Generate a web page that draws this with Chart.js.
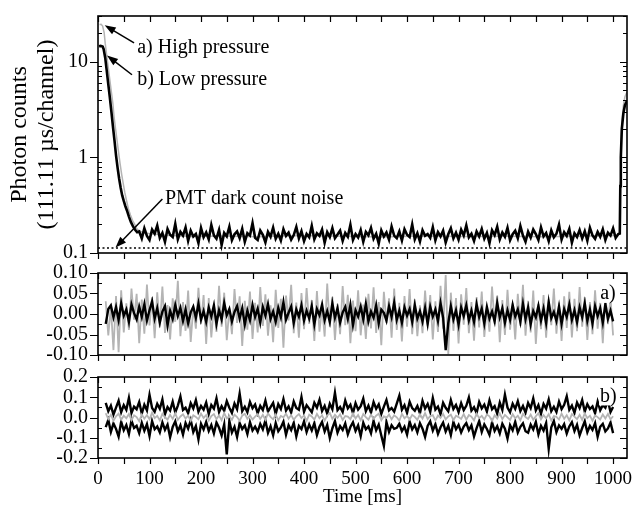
<!DOCTYPE html>
<html><head><meta charset="utf-8">
<script src="https://cdn.jsdelivr.net/npm/chart.js@4.4.1/dist/chart.umd.min.js"></script>
<style>
html,body{margin:0;padding:0;background:#fff;}
#wrap{position:relative;width:637px;height:506px;overflow:hidden;background:#fff;}
canvas{position:absolute;left:0;}
</style></head><body>
<div id="wrap">
<canvas id="c1" width="637" height="266" style="top:0px"></canvas>
<canvas id="c2" width="637" height="110" style="top:258px"></canvas>
<canvas id="c3" width="637" height="144" style="top:362px"></canvas>
</div>
<script>
// ---------------- DATA ----------------
const X_MAX = 1027;
const xTickLabels = [0,100,200,300,400,500,600,700,800,900,1000];
const xTickVals = [0,50,100,150,200,250,300,350,400,450,500,550,600,650,700,750,800,850,900,950,1000];

const gridTimes = [
15,20,25,30,35,40,45,50,55,60,65,70,75,80,85,90,95,100,105,110,
115,120,125,130,135,140,145,150,155,160,165,170,175,180,185,190,195,200,205,210,
215,220,225,230,235,240,245,250,255,260,265,270,275,280,285,290,295,300,305,310,
315,320,325,330,335,340,345,350,355,360,365,370,375,380,385,390,395,400,405,410,
415,420,425,430,435,440,445,450,455,460,465,470,475,480,485,490,495,500,505,510,
515,520,525,530,535,540,545,550,555,560,565,570,575,580,585,590,595,600,605,610,
615,620,625,630,635,640,645,650,655,660,665,670,675,680,685,690,695,700,705,710,
715,720,725,730,735,740,745,750,755,760,765,770,775,780,785,790,795,800,805,810,
815,820,825,830,835,840,845,850,855,860,865,870,875,880,885,890,895,900,905,910,
915,920,925,930,935,940,945,950,955,960,965,970,975,980,985,990,995,1000,1005,1010];

// Top panel: low pressure (black)
const lowDecayT = [2,5,9,11,14,17,20,23,26,29,32,35,38,41,44,47,50,53,56,60,64,68,72,76];
const lowDecayV = [14.5,14.6,14.4,13.5,11,8,5.8,4.2,3.0,2.1,1.5,1.05,0.78,0.6,0.48,0.40,0.35,0.31,0.28,0.24,0.21,0.19,0.175,0.165];
// baseline, t = 80 ... 1010 (gridTimes from index 13)
const lowBase = [
0.168,0.142,0.181,0.151,0.137,0.176,0.159,0.193,0.144,0.162,0.131,0.178,0.155,0.147,0.201,0.139,0.166,0.152,0.185,0.134,
0.171,0.149,0.158,0.127,0.183,0.146,0.164,0.139,0.196,0.153,0.141,0.174,0.121,0.162,0.149,0.188,0.136,0.157,0.168,0.143,
0.179,0.131,0.161,0.152,0.205,0.144,0.137,0.172,0.155,0.129,0.166,0.148,0.184,0.141,0.159,0.135,0.177,0.151,0.163,0.138,
0.154,0.187,0.142,0.169,0.133,0.158,0.146,0.192,0.139,0.161,0.151,0.176,0.128,0.165,0.147,0.182,0.143,0.156,0.171,0.134,
0.162,0.148,0.197,0.137,0.158,0.145,0.174,0.131,0.166,0.153,0.183,0.141,0.159,0.126,0.172,0.149,0.164,0.138,0.189,0.152,
0.143,0.168,0.135,0.177,0.155,0.147,0.199,0.139,0.161,0.132,0.173,0.151,0.158,0.144,0.186,0.136,0.165,0.149,0.171,0.129,
0.157,0.181,0.142,0.163,0.138,0.175,0.152,0.194,0.146,0.159,0.134,0.168,0.149,0.178,0.141,0.162,0.127,0.173,0.154,0.188,
0.139,0.164,0.148,0.183,0.136,0.157,0.171,0.143,0.191,0.152,0.131,0.167,0.145,0.176,0.158,0.137,0.185,0.149,0.162,0.133,
0.172,0.146,0.159,0.198,0.138,0.165,0.151,0.179,0.128,0.161,0.147,0.174,0.142,0.169,0.135,0.184,0.153,0.141,0.166,0.148,
0.177,0.137,0.163,0.152,0.181,0.144,0.158];
const lowRiseT = [1013,1014,1015,1017,1020,1023,1027];
const lowRiseV = [0.16,0.5,1.0,2.0,2.9,3.5,3.9];

// Top panel: high pressure (grey)
const highDecayT = [3,6,9,12,14,17,20,23,26,29,31,34,37,40,43,46,49,52,55,59,63,67,71,75,80];
const highDecayV = [24.5,24.6,23.5,20,15.5,11.5,8.6,6.4,4.8,3.6,2.7,2.0,1.5,1.12,0.85,0.66,0.53,0.43,0.36,0.29,0.25,0.22,0.2,0.18,0.17];
const highBaseT = [90,130,180,240,310,390,470,550,630,710,790,870,950,1010];
const highBaseV = [0.162,0.153,0.149,0.151,0.148,0.152,0.15,0.147,0.151,0.149,0.15,0.148,0.151,0.152];
const highRiseT = [1013,1014,1015,1017,1020,1023,1027];
const highRiseV = [0.16,0.55,1.1,2.3,3.5,4.3,4.8];

const darkCount = 0.113;

// Middle panel a): residuals (grey, black), t = 15 ... 1000
const resAgrey = [
0.031,-0.052,0.018,-0.088,0.044,-0.093,0.058,-0.045,0.026,-0.039,0.062,-0.014,0.049,-0.071,0.035,-0.048,0.072,-0.028,0.041,-0.059,
0.053,-0.033,0.067,-0.046,0.022,-0.062,0.038,-0.019,0.081,-0.054,0.029,-0.041,0.057,-0.068,0.017,-0.036,0.064,-0.025,0.046,-0.073,
0.039,-0.057,0.024,-0.044,0.069,-0.031,0.052,-0.064,0.013,-0.049,0.061,-0.022,0.043,-0.078,0.032,-0.038,0.055,-0.061,0.027,-0.045,
0.066,-0.029,0.048,-0.053,0.021,-0.069,0.059,-0.034,0.037,-0.082,0.045,-0.016,0.071,-0.047,0.028,-0.058,0.051,-0.037,0.063,-0.024,
0.034,-0.066,0.056,-0.043,0.019,-0.055,0.074,-0.031,0.042,-0.063,0.025,-0.049,0.068,-0.027,0.047,-0.071,0.033,-0.042,0.058,-0.052,
0.023,-0.061,0.049,-0.035,0.065,-0.046,0.029,-0.076,0.054,-0.022,0.038,-0.058,0.062,-0.039,0.027,-0.067,0.044,-0.031,0.061,-0.049,
0.036,-0.054,0.021,-0.047,0.057,-0.028,0.046,-0.062,0.031,-0.044,0.069,-0.036,0.095,-0.098,0.052,-0.041,0.039,-0.072,0.048,-0.026,
0.063,-0.047,0.029,-0.065,0.041,-0.033,0.055,-0.056,0.018,-0.043,0.067,-0.024,0.045,-0.069,0.034,-0.051,0.059,-0.038,0.026,-0.062,
0.049,-0.029,0.071,-0.053,0.032,-0.045,0.057,-0.073,0.024,-0.037,0.046,-0.058,0.035,-0.027,0.062,-0.048,0.028,-0.066,0.043,-0.034,
0.054,-0.057,0.037,-0.042,0.066,-0.031,0.041,-0.063,0.029,-0.049,0.058,-0.036,0.033,-0.071,0.047,-0.025,0.039,-0.052];
const resAblack = [
-0.024,0.012,0.021,-0.008,0.017,-0.015,0.026,-0.004,0.011,-0.019,0.023,0.002,-0.013,0.018,-0.007,0.024,-0.016,0.009,0.031,-0.011,
0.014,-0.021,0.006,0.019,-0.028,0.008,-0.012,0.022,-0.005,0.015,-0.017,0.011,-0.023,0.004,0.018,-0.009,0.025,-0.014,0.007,-0.019,
0.016,-0.006,0.021,-0.024,0.009,-0.013,0.027,-0.003,0.012,-0.018,0.005,0.019,-0.011,0.014,-0.026,0.008,-0.015,0.022,-0.007,0.013,
-0.021,0.017,-0.004,0.024,-0.012,0.006,-0.019,0.015,-0.008,0.029,-0.014,0.003,0.018,-0.022,0.011,-0.006,0.021,-0.016,0.008,-0.011,
0.019,-0.025,0.012,-0.003,0.023,-0.015,0.007,-0.019,0.026,-0.009,0.014,-0.021,0.004,0.017,-0.012,0.022,-0.027,0.009,-0.006,0.018,
-0.013,0.025,-0.018,0.006,-0.009,0.021,-0.023,0.011,0.003,-0.016,0.019,-0.007,0.028,-0.014,0.008,-0.021,0.016,-0.004,0.012,-0.019,
0.022,-0.011,0.007,-0.018,0.015,-0.024,0.018,-0.006,0.011,-0.017,0.026,-0.009,-0.088,-0.022,0.019,-0.013,0.009,-0.026,0.016,-0.005,
0.021,-0.015,0.008,-0.019,0.024,-0.007,0.013,-0.023,0.017,-0.011,0.006,-0.018,0.027,-0.008,0.014,-0.021,0.009,-0.014,0.022,-0.006,
0.011,-0.019,0.025,-0.012,0.016,-0.025,0.007,-0.008,0.02,-0.016,0.013,-0.022,0.029,-0.01,0.005,-0.017,0.018,-0.024,0.012,-0.007,
0.023,-0.014,0.009,-0.02,0.016,-0.008,0.026,-0.017,0.011,-0.023,0.019,-0.005,0.014,-0.021,0.024,-0.012,0.008,-0.018];

// Bottom panel b): residuals (two black bands, grey), t = 15 ... 1000
const resBhigh = [
0.072,0.031,0.058,0.014,0.049,0.083,0.026,0.061,0.038,0.097,0.022,0.054,0.041,0.076,0.019,0.063,0.035,0.112,0.047,0.028,
0.067,0.043,0.089,0.016,0.052,0.034,0.078,0.025,0.059,0.104,0.037,0.048,0.021,0.071,0.045,0.086,0.029,0.057,0.039,0.074,
0.018,0.062,0.044,0.095,0.027,0.056,0.033,0.081,0.048,0.023,0.069,0.041,0.118,0.031,0.053,0.026,0.077,0.046,0.064,0.021,
0.058,0.037,0.083,0.029,0.051,0.072,0.017,0.066,0.042,0.091,0.034,0.055,0.024,0.079,0.047,0.038,0.101,0.028,0.061,0.044,
0.026,0.073,0.049,0.088,0.032,0.057,0.019,0.068,0.041,0.122,0.036,0.052,0.027,0.084,0.045,0.063,0.022,0.071,0.039,0.056,
0.093,0.031,0.059,0.024,0.076,0.043,0.065,0.018,0.054,0.087,0.035,0.047,0.029,0.069,0.108,0.038,0.061,0.023,0.078,0.046,
0.033,0.057,0.021,0.082,0.044,0.067,0.028,0.096,0.039,0.054,0.016,0.073,0.048,0.031,0.086,0.042,0.062,0.027,0.071,0.036,
0.058,0.099,0.034,0.051,0.022,0.077,0.045,0.064,0.029,0.085,0.041,0.056,0.019,0.074,0.037,0.113,0.049,0.026,0.068,0.043,
0.081,0.032,0.057,0.024,0.072,0.046,0.094,0.035,0.061,0.018,0.067,0.044,0.089,0.031,0.053,0.027,0.078,0.041,0.063,0.105,
0.038,0.059,0.023,0.074,0.047,0.086,0.029,0.066,0.042,0.055,0.021,0.079,0.036,0.061,0.048,0.083,0.027,0.052];
const resBlow = [
-0.048,-0.012,-0.071,-0.029,-0.056,-0.094,-0.021,-0.063,-0.037,-0.082,-0.015,-0.052,-0.041,-0.077,-0.026,-0.065,-0.033,-0.091,-0.018,-0.058,
-0.044,-0.073,-0.024,-0.061,-0.035,-0.098,-0.047,-0.019,-0.068,-0.039,-0.084,-0.027,-0.055,-0.013,-0.072,-0.042,-0.108,-0.031,-0.059,-0.022,
-0.066,-0.037,-0.079,-0.025,-0.051,-0.088,-0.034,-0.182,-0.017,-0.074,-0.046,-0.096,-0.028,-0.057,-0.039,-0.081,-0.023,-0.064,-0.045,-0.071,
-0.032,-0.059,-0.015,-0.076,-0.043,-0.088,-0.027,-0.068,-0.049,-0.021,-0.085,-0.038,-0.062,-0.026,-0.093,-0.041,-0.057,-0.019,-0.072,-0.035,
-0.064,-0.028,-0.087,-0.046,-0.022,-0.069,-0.037,-0.101,-0.053,-0.018,-0.075,-0.042,-0.061,-0.029,-0.083,-0.047,-0.024,-0.066,-0.039,-0.092,
-0.026,-0.058,-0.044,-0.078,-0.017,-0.063,-0.035,-0.089,-0.14,-0.023,-0.071,-0.038,-0.056,-0.051,-0.031,-0.067,-0.045,-0.084,-0.021,-0.059,
-0.037,-0.073,-0.028,-0.055,-0.096,-0.042,-0.019,-0.064,-0.033,-0.081,-0.048,-0.025,-0.069,-0.041,-0.087,-0.022,-0.058,-0.036,-0.074,-0.045,
-0.027,-0.062,-0.039,-0.093,-0.052,-0.018,-0.071,-0.034,-0.057,-0.086,-0.024,-0.066,-0.043,-0.079,-0.031,-0.055,-0.104,-0.038,-0.063,-0.021,
-0.074,-0.046,-0.029,-0.068,-0.075,-0.035,-0.059,-0.022,-0.083,-0.041,-0.064,-0.027,-0.155,-0.048,-0.017,-0.072,-0.039,-0.056,-0.033,-0.079,
-0.044,-0.023,-0.067,-0.036,-0.088,-0.052,-0.019,-0.073,-0.041,-0.061,-0.028,-0.095,-0.046,-0.031,-0.069,-0.054,-0.025,-0.077];
const resBgrey = [
0.021,-0.008,0.014,-0.016,0.006,0.019,-0.011,0.009,-0.004,0.017,-0.013,0.011,0.002,-0.018,0.015,-0.006,0.012,-0.009,0.024,-0.003,
0.008,-0.014,0.018,0.001,-0.01,0.013,-0.007,0.021,-0.012,0.005,0.016,-0.005,0.009,-0.017,0.011,0.003,-0.009,0.019,-0.002,0.012,
-0.015,0.007,0.017,-0.008,0.01,-0.013,0.022,-0.004,0.006,-0.011,0.014,0.002,-0.016,0.009,0.018,-0.006,0.011,-0.01,0.004,0.016,
-0.007,0.013,-0.012,0.02,0.003,-0.009,0.015,-0.014,0.008,0.001,0.019,-0.006,0.012,-0.011,0.006,0.017,-0.003,0.01,-0.016,0.014,
0.005,-0.01,0.018,-0.004,0.011,-0.015,0.009,0.023,-0.007,0.013,-0.002,0.016,-0.012,0.007,0.004,-0.008,0.02,-0.005,0.012,-0.013,
0.017,0.002,-0.011,0.014,-0.006,0.009,0.019,-0.014,0.006,-0.003,0.015,-0.009,0.011,0.001,-0.016,0.018,-0.004,0.008,-0.01,0.013,
0.003,-0.012,0.016,-0.005,0.021,-0.008,0.007,0.012,-0.015,0.01,-0.002,0.018,-0.009,0.005,0.014,-0.013,0.009,0.002,-0.007,0.017,
-0.011,0.012,0.004,-0.014,0.019,-0.003,0.008,-0.01,0.015,0.006,-0.017,0.011,-0.005,0.02,-0.008,0.013,0.001,-0.012,0.016,-0.004,
0.009,-0.013,0.018,0.002,-0.007,0.014,-0.011,0.006,0.021,-0.009,0.012,-0.004,0.016,-0.015,0.007,0.003,-0.01,0.019,-0.006,0.011,
-0.014,0.017,0.004,-0.008,0.013,-0.012,0.02,-0.003,0.009,-0.016,0.011,0.002,-0.01,0.015,-0.005,0.018,-0.009,0.006];

// Axis tick values
const topLabels = [0.1, 1, 10];
const topMinor = [0.2,0.3,0.4,0.5,0.6,0.7,0.8,0.9,2,3,4,5,6,7,8,9,20,30];
const midLabels = [-0.1,-0.05,0,0.05,0.1];
const midMinor = [-0.075,-0.025,0.025,0.075];
const botLabels = [-0.2,-0.1,0,0.1,0.2];
const botMinor = [-0.15,-0.05,0.05,0.15];

// Annotations (text, text anchor [t, value], arrow tail, arrow tip)
const noteText = ['a) High pressure', 'b) Low pressure', 'PMT dark count noise'];
const noteAt   = [[76, 13.9], [76, 6.46], [130, 0.37]];
const noteFrom = [[70, 15.7], [66, 7.3], [125, 0.367]];
const noteTo   = [[13, 24], [17.5, 11.6], [34, 0.114]];

// ---------------- RENDER ----------------
const FONT = '"Liberation Serif", "Times New Roman", Times, serif';
Chart.defaults.font.family = FONT;
Chart.defaults.color = '#000';
const BLACK = '#000000', GREY = '#b4b4b4';

const pts = (ts, vs) => vs.map((v, i) => ({x: ts[i], y: v}));
const line = (data, color, w, extra) => Object.assign({data, borderColor: color, borderWidth: w, pointRadius: 0, fill: false, tension: 0}, extra || {});

const frameTicks = {
  id: 'frameTicks',
  afterDraw(chart, args, o) {
    const {ctx, chartArea: a} = chart;
    const xs = chart.scales.x, ys = chart.scales.y;
    ctx.save();
    ctx.strokeStyle = '#000';
    ctx.lineWidth = 1.2;
    ctx.beginPath();
    for (const t of xTickVals) {
      const px = Math.round(xs.getPixelForValue(t)) + 0.5;
      ctx.moveTo(px, a.top); ctx.lineTo(px, a.top + 6);
      ctx.moveTo(px, a.bottom); ctx.lineTo(px, a.bottom + 6);
    }
    for (const v of o.major) {
      const py = Math.round(ys.getPixelForValue(v)) + 0.5;
      ctx.moveTo(a.left - 8, py); ctx.lineTo(a.left, py);
      ctx.moveTo(a.right, py); ctx.lineTo(a.right - 7, py);
    }
    for (const v of o.minor) {
      const py = Math.round(ys.getPixelForValue(v)) + 0.5;
      ctx.moveTo(a.left, py); ctx.lineTo(a.left + 4, py);
      ctx.moveTo(a.right, py); ctx.lineTo(a.right - 4, py);
    }
    ctx.stroke();
    ctx.lineWidth = 1.6;
    ctx.strokeRect(a.left, a.top, a.right - a.left, a.bottom - a.top);
    ctx.restore();
  }
};

function arrow(ctx, x0, y0, x1, y1) {
  const ang = Math.atan2(y1 - y0, x1 - x0);
  const L = 11, W = 4;
  const c = Math.cos(ang), s = Math.sin(ang);
  ctx.beginPath(); ctx.moveTo(x0, y0); ctx.lineTo(x1 - L * 0.8 * c, y1 - L * 0.8 * s); ctx.stroke();
  ctx.beginPath(); ctx.moveTo(x1, y1);
  ctx.lineTo(x1 - L * c + W * s, y1 - L * s - W * c);
  ctx.lineTo(x1 - L * c - W * s, y1 - L * s + W * c);
  ctx.closePath(); ctx.fill();
}

const notes = {
  id: 'notes',
  afterDatasetsDraw(chart) {
    const {ctx} = chart;
    const xs = chart.scales.x, ys = chart.scales.y;
    ctx.save();
    ctx.fillStyle = '#000'; ctx.strokeStyle = '#000'; ctx.lineWidth = 1.5;
    ctx.font = '20px ' + FONT;
    ctx.textAlign = 'left'; ctx.textBaseline = 'middle';
    noteText.forEach((t, i) => {
      ctx.fillText(t, xs.getPixelForValue(noteAt[i][0]), ys.getPixelForValue(noteAt[i][1]));
      arrow(ctx, xs.getPixelForValue(noteFrom[i][0]), ys.getPixelForValue(noteFrom[i][1]),
                 xs.getPixelForValue(noteTo[i][0]), ys.getPixelForValue(noteTo[i][1]));
    });
    ctx.restore();
  }
};

const panelLabel = {
  id: 'panelLabel',
  afterDatasetsDraw(chart, args, o) {
    const {ctx} = chart;
    const px = chart.scales.x.getPixelForValue(o.x), py = chart.scales.y.getPixelForValue(o.y);
    ctx.save();
    ctx.font = '20px ' + FONT;
    ctx.textAlign = 'right'; ctx.textBaseline = 'middle';
    const w = ctx.measureText(o.text).width;
    ctx.fillStyle = '#fff';
    ctx.fillRect(px - w - 1, py - 10, w + 2, 19);
    ctx.fillStyle = '#000';
    ctx.fillText(o.text, px, py);
    ctx.restore();
  }
};

function xAxis(showLabels, h) {
  return {
    type: 'linear', min: 0, max: X_MAX,
    grid: {display: false, drawTicks: false}, border: {display: false},
    ticks: showLabels ? {display: true, font: {size: 19}, padding: 10, maxRotation: 0, autoSkip: false, color: '#000', callback: v => String(v)} : {display: false},
    afterBuildTicks: s => { s.ticks = xTickLabels.map(v => ({value: v})); },
    title: showLabels ? {display: true, text: 'Time [ms]', font: {size: 19, lineHeight: 1.0}, padding: {top: 0, bottom: -1}, color: '#000'} : {display: false},
    afterFit: s => { s.height = h; s.paddingLeft = 0; s.paddingRight = 0; }
  };
}

const yTicks = (cb) => ({font: {size: 20}, padding: 10, color: '#000', autoSkip: false, callback: cb});
const yFit = s => { s.width = 98; s.paddingTop = 0; s.paddingBottom = 0; };

const common = {
  responsive: false, animation: false, devicePixelRatio: 1,
  plugins: {legend: {display: false}, tooltip: {enabled: false}},
  elements: {line: {borderJoinStyle: 'miter'}}
};

// Top panel
new Chart(document.getElementById('c1'), {
  type: 'line',
  data: {datasets: [
    line([{x: 0, y: darkCount}, {x: X_MAX, y: darkCount}], BLACK, 1.5, {borderDash: [2, 2.5]}),
    line([...pts(lowDecayT, lowDecayV), ...pts(gridTimes.slice(13), lowBase), ...pts(lowRiseT, lowRiseV)], BLACK, 2.6),
    line([...pts(highDecayT, highDecayV), ...pts(highBaseT, highBaseV), ...pts(highRiseT, highRiseV)], GREY, 1.5)
  ]},
  options: Object.assign({}, common, {
    layout: {padding: {top: 16, right: 10, left: 0, bottom: 0}},
    plugins: Object.assign({}, common.plugins, {frameTicks: {major: topLabels, minor: topMinor}}),
    scales: {
      x: xAxis(false, 13),
      y: {
        type: 'logarithmic', min: 0.1, max: 30,
        grid: {display: false, drawTicks: false}, border: {display: false},
        ticks: yTicks(v => topLabels.includes(v) ? String(v) : ''),
        afterBuildTicks: s => { s.ticks = topLabels.map(v => ({value: v})); },
        afterFit: yFit,
        title: {display: true, text: ['Photon counts', '(111.11 \u00b5s/channel)'], font: {size: 24, lineHeight: 1.12}, padding: {top: 6, bottom: 0}, color: '#000'}
      }
    }
  }),
  plugins: [frameTicks, notes]
});

// Middle panel a)
new Chart(document.getElementById('c2'), {
  type: 'line',
  data: {datasets: [
    line(pts(gridTimes, resAblack), BLACK, 2.4),
    line(pts(gridTimes, resAgrey), GREY, 1.8)
  ]},
  options: Object.assign({}, common, {
    layout: {padding: {top: 15, right: 10, left: 0, bottom: 0}},
    plugins: Object.assign({}, common.plugins, {frameTicks: {major: midLabels, minor: midMinor}, panelLabel: {text: 'a)', x: 1005, y: 0.049}}),
    scales: {
      x: xAxis(false, 13),
      y: {
        type: 'linear', min: -0.1, max: 0.1,
        grid: {display: false, drawTicks: false}, border: {display: false},
        ticks: yTicks(v => (Math.abs(v) < 1e-9 ? 0 : v).toFixed(2)),
        afterBuildTicks: s => { s.ticks = midLabels.map(v => ({value: v})); },
        afterFit: yFit
      }
    }
  }),
  plugins: [frameTicks, panelLabel]
});

// Bottom panel b)
new Chart(document.getElementById('c3'), {
  type: 'line',
  data: {datasets: [
    line(pts(gridTimes, resBgrey), GREY, 1.8),
    line(pts(gridTimes, resBhigh), BLACK, 2.4),
    line(pts(gridTimes, resBlow), BLACK, 2.4)
  ]},
  options: Object.assign({}, common, {
    layout: {padding: {top: 15, right: 10, left: 0, bottom: 0}},
    plugins: Object.assign({}, common.plugins, {frameTicks: {major: botLabels, minor: botMinor}, panelLabel: {text: 'b)', x: 1007, y: 0.104}}),
    scales: {
      x: xAxis(true, 48),
      y: {
        type: 'linear', min: -0.2, max: 0.2,
        grid: {display: false, drawTicks: false}, border: {display: false},
        ticks: yTicks(v => (Math.abs(v) < 1e-9 ? 0 : v).toFixed(1)),
        afterBuildTicks: s => { s.ticks = botLabels.map(v => ({value: v})); },
        afterFit: yFit
      }
    }
  }),
  plugins: [frameTicks, panelLabel]
});
</script>
</body></html>
